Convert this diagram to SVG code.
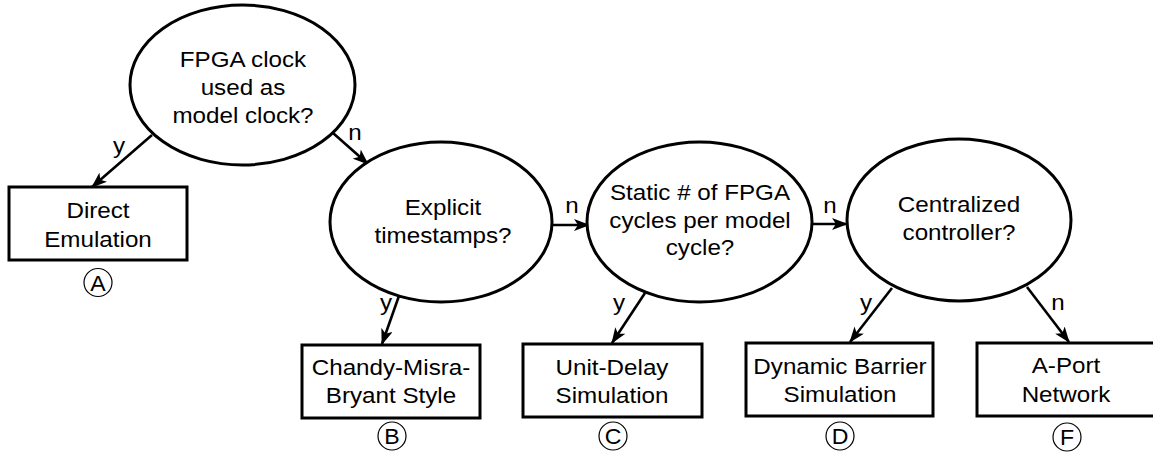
<svg xmlns="http://www.w3.org/2000/svg" width="1153" height="454" viewBox="0 0 1153 454">
<style>
.sh{fill:#fff;stroke:#000;stroke-width:3}
.cir{fill:none;stroke:#000;stroke-width:1.2}
.t{font-family:"Liberation Sans",Arial,sans-serif;font-size:22px;fill:#000;text-anchor:middle}
.lbl{font-family:"Liberation Sans",Arial,sans-serif;font-size:22px;fill:#000;text-anchor:middle}
.ln{stroke:#000;stroke-width:2.6;fill:none;marker-end:url(#ah)}
</style>
<defs>
<marker id="ah" markerUnits="userSpaceOnUse" markerWidth="16" markerHeight="12" refX="15" refY="6" orient="auto" viewBox="0 0 16 12">
<path d="M0,0 L16,6 L0,12 L4,6 z" fill="#000"/>
</marker>
</defs>
<g id="connectors">
<line class="ln" x1="152" y1="135" x2="92" y2="187"/>
<line class="ln" x1="333" y1="133" x2="368" y2="164"/>
<line class="ln" x1="553" y1="225" x2="589" y2="225"/>
<line class="ln" x1="812" y1="224" x2="847" y2="224"/>
<line class="ln" x1="400" y1="293" x2="382" y2="344"/>
<line class="ln" x1="645" y1="293" x2="612" y2="343"/>
<line class="ln" x1="892" y1="288" x2="850" y2="342"/>
<line class="ln" x1="1027" y1="287" x2="1069" y2="342"/>
<text class="lbl" transform="translate(119,153) scale(1.1,1)">y</text>
<text class="lbl" transform="translate(355,140) scale(1.1,1)">n</text>
<text class="lbl" transform="translate(572,213) scale(1.1,1)">n</text>
<text class="lbl" transform="translate(830,213) scale(1.1,1)">n</text>
<text class="lbl" transform="translate(386,310) scale(1.1,1)">y</text>
<text class="lbl" transform="translate(619,310) scale(1.1,1)">y</text>
<text class="lbl" transform="translate(866,310) scale(1.1,1)">y</text>
<text class="lbl" transform="translate(1058,310) scale(1.1,1)">n</text>
</g>
<g id="q1">
<ellipse class="sh" cx="242.5" cy="85" rx="112.5" ry="80"/>
<text class="t" transform="translate(243,67) scale(1.1,1)"><tspan x="0" y="0">FPGA clock</tspan><tspan x="0" y="28">used as</tspan><tspan x="0" y="56">model clock?</tspan></text>
</g>
<g id="q2">
<ellipse class="sh" cx="441" cy="222" rx="111" ry="80"/>
<text class="t" transform="translate(443,215) scale(1.1,1)"><tspan x="0" y="0">Explicit</tspan><tspan x="0" y="28">timestamps?</tspan></text>
</g>
<g id="q3">
<ellipse class="sh" cx="699.5" cy="222" rx="112.5" ry="80"/>
<text class="t" transform="translate(700,200) scale(1.1,1)"><tspan x="0" y="0">Static # of FPGA</tspan><tspan x="0" y="28">cycles per model</tspan><tspan x="0" y="55">cycle?</tspan></text>
</g>
<g id="q4">
<ellipse class="sh" cx="959" cy="220" rx="112" ry="81"/>
<text class="t" transform="translate(959,212) scale(1.1,1)"><tspan x="0" y="0">Centralized</tspan><tspan x="0" y="28">controller?</tspan></text>
</g>
<g id="rA">
<rect class="sh" x="9" y="187" width="178" height="73"/>
<text class="t" transform="translate(98,218) scale(1.1,1)"><tspan x="0" y="0">Direct</tspan><tspan x="0" y="29">Emulation</tspan></text>
<circle class="cir" cx="98" cy="282.5" r="14"/>
<text class="t" transform="translate(98,290.5) scale(1.05,1)">A</text>
</g>
<g id="rB">
<rect class="sh" x="302" y="345" width="178" height="73"/>
<text class="t" transform="translate(391,375) scale(1.1,1)"><tspan x="0" y="0">Chandy-Misra-</tspan><tspan x="0" y="28">Bryant Style</tspan></text>
<circle class="cir" cx="392" cy="436" r="14"/>
<text class="t" transform="translate(392,444) scale(1.05,1)">B</text>
</g>
<g id="rC">
<rect class="sh" x="523" y="344" width="179" height="73"/>
<text class="t" transform="translate(612,375) scale(1.1,1)"><tspan x="0" y="0">Unit-Delay</tspan><tspan x="0" y="28">Simulation</tspan></text>
<circle class="cir" cx="613" cy="436" r="14"/>
<text class="t" transform="translate(613,444) scale(1.05,1)">C</text>
</g>
<g id="rD">
<rect class="sh" x="746" y="343" width="187" height="73"/>
<text class="t" transform="translate(840,374) scale(1.1,1)"><tspan x="0" y="0">Dynamic Barrier</tspan><tspan x="0" y="28">Simulation</tspan></text>
<circle class="cir" cx="840" cy="436" r="14"/>
<text class="t" transform="translate(840,444) scale(1.05,1)">D</text>
</g>
<g id="rF">
<rect class="sh" x="977" y="343" width="179" height="73"/>
<text class="t" transform="translate(1066,373) scale(1.1,1)"><tspan x="0" y="0">A-Port</tspan><tspan x="0" y="29">Network</tspan></text>
<circle class="cir" cx="1067" cy="437" r="14"/>
<text class="t" transform="translate(1067,445) scale(1.05,1)">F</text>
</g>
</svg>
